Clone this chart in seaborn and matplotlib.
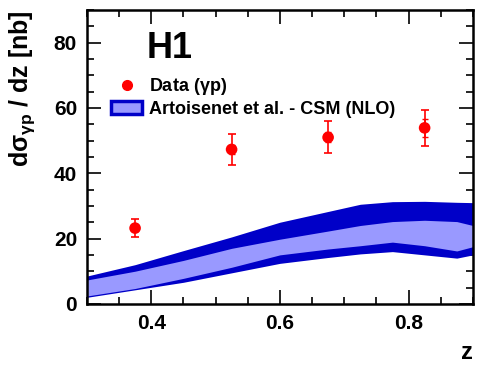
import numpy as np
import pandas as pd
import matplotlib
matplotlib.use("Agg")
import matplotlib.pyplot as plt
import seaborn as sns
from matplotlib.patches import Patch
from matplotlib.lines import Line2D
from matplotlib.ticker import MultipleLocator

# ---- data ----
data_z = [0.375, 0.525, 0.675, 0.825]
data_val = [23.2, 47.3, 51.0, 53.9]
data_err_up = [2.7, 4.8, 5.0, 5.6]
data_err_dn = [2.6, 4.8, 4.9, 5.6]
data_stat = [1.0, 1.3, 1.5, 2.7]

band_z = [0.3, 0.375, 0.45, 0.525, 0.6, 0.675, 0.725, 0.775, 0.825, 0.875, 0.9]
outer_hi = [8.5, 12.0, 16.3, 20.5, 25.0, 28.3, 30.5, 31.3, 31.4, 31.1, 31.0]
inner_hi = [7.3, 10.0, 13.3, 17.0, 19.8, 22.3, 24.0, 25.2, 25.6, 25.2, 24.0]
inner_lo = [2.4, 4.7, 7.8, 11.2, 15.0, 16.8, 17.8, 18.9, 17.8, 16.2, 17.5]
outer_lo = [2.0, 4.3, 6.6, 9.5, 12.4, 14.2, 15.3, 16.0, 15.0, 14.0, 15.0]

x_ticks = [0.4, 0.6, 0.8]
y_ticks = [0, 20, 40, 60, 80]

DARK = "#0000c8"
LIGHT = "#9999ff"
RED = "#ff0000"

sns.set_theme(style="ticks")
plt.rcParams["font.family"] = ["Liberation Sans", "DejaVu Sans"]
plt.rcParams["font.weight"] = "bold"
plt.rcParams["text.color"] = "black"
plt.rcParams["axes.labelcolor"] = "black"
plt.rcParams["xtick.color"] = "black"
plt.rcParams["ytick.color"] = "black"
plt.rcParams["mathtext.fontset"] = "custom"
plt.rcParams["mathtext.rm"] = "Liberation Sans:bold"
plt.rcParams["mathtext.it"] = "Liberation Sans:bold"
plt.rcParams["mathtext.bf"] = "Liberation Sans:bold"

fig = plt.figure(figsize=(4.85, 3.71), dpi=100)
ax = fig.add_axes([0.179, 0.181, 0.796, 0.792])

ax.fill_between(band_z, outer_lo, outer_hi, color=DARK, lw=0, zorder=1)
ax.fill_between(band_z, inner_lo, inner_hi, color=LIGHT, lw=0, zorder=2)

df = pd.DataFrame({"z": data_z, "val": data_val})
ax.errorbar(data_z, data_val, yerr=[data_err_dn, data_err_up], fmt="none",
            ecolor=RED, elinewidth=1.2, capsize=3, capthick=1.2, zorder=3)
ax.errorbar(data_z, data_val, yerr=data_stat, fmt="none",
            ecolor=RED, elinewidth=1.2, capsize=2.5, capthick=1.0, zorder=3)
sns.scatterplot(data=df, x="z", y="val", ax=ax, color=RED, s=70,
                edgecolor="none", zorder=4, legend=False)

ax.set_xlim(0.3, 0.9)
ax.set_ylim(0, 90)
ax.set_xticks(x_ticks)
ax.set_yticks(y_ticks)
ax.xaxis.set_minor_locator(MultipleLocator(0.05))
ax.yaxis.set_minor_locator(MultipleLocator(5))
ax.tick_params(which="both", direction="in", top=True, right=True,
               labelsize=15, width=1.2, color="black", labelcolor="black")
ax.tick_params(which="major", length=10, pad=7)
ax.tick_params(which="minor", length=5)
for lab in ax.get_xticklabels() + ax.get_yticklabels():
    lab.set_fontweight("bold")
for sp in ax.spines.values():
    sp.set_linewidth(1.8)
    sp.set_color("black")

ax.set_xlabel("z", loc="right", fontsize=17, fontweight="bold", labelpad=6)
ax.set_ylabel(r"d$\sigma_{\gamma \mathrm{p}}$ / dz [nb]", loc="top",
              fontsize=18, fontweight="bold", labelpad=12)

ax.text(0.155, 0.93, "H1", transform=ax.transAxes, fontsize=26,
        fontweight="bold", va="top", ha="left")

handles = [
    Line2D([], [], marker="o", color=RED, ls="none", markersize=7),
    Patch(facecolor=LIGHT, edgecolor=DARK, linewidth=2.5),
]
labels = [r"Data ($\gamma$p)", "Artoisenet et al. - CSM (NLO)"]
leg = ax.legend(handles, labels, loc="upper left", bbox_to_anchor=(0.045, 0.80),
                frameon=False, fontsize=13, handlelength=1.7,
                handletextpad=0.4, labelspacing=0.2, borderaxespad=0)
for t in leg.get_texts():
    t.set_fontweight("bold")

fig.savefig("out.png", dpi=100)
